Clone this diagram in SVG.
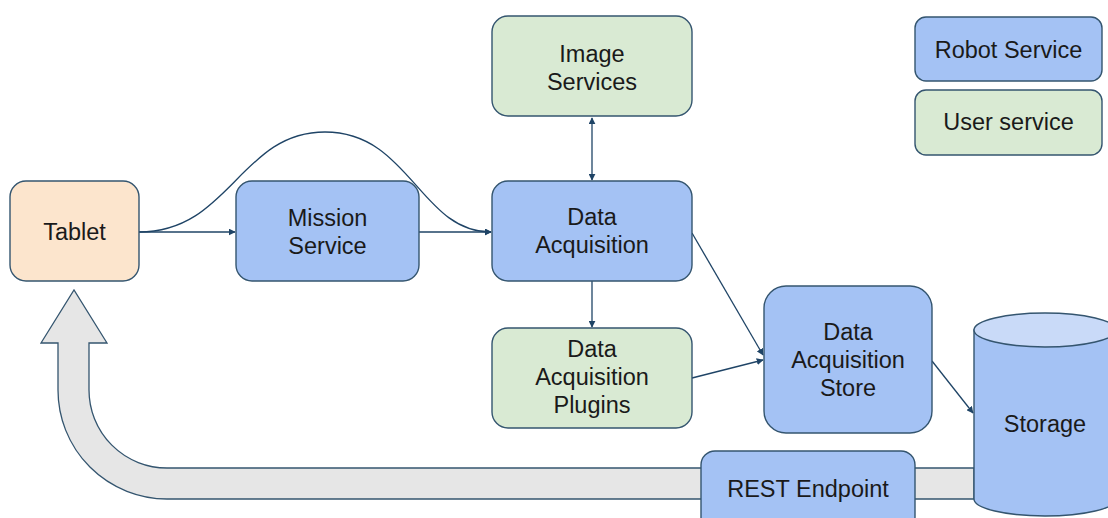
<svg xmlns="http://www.w3.org/2000/svg" width="1108" height="518" viewBox="0 0 1108 518">
<defs>
<style>
.box{stroke:#34556f;stroke-width:1.4}
.robot{fill:#a4c2f4}
.user{fill:#d9ead3}
.tab{fill:#fce5cd}
text{font-family:"Liberation Sans",Arial,sans-serif;font-size:23.5px;fill:#1a1a1a;text-anchor:middle}
.con{fill:none;stroke:#1f4466;stroke-width:1.3}
</style>
<marker id="ah" viewBox="0 0 10 10" refX="9" refY="5" markerWidth="7" markerHeight="7" markerUnits="userSpaceOnUse" orient="auto-start-reverse">
<path d="M0,0 L10,5 L0,10 z" fill="#1f4466"/>
</marker>
</defs>
<rect width="1108" height="518" fill="#ffffff"/>

<g id="feedback-arrow">
<path d="M974,468 L167,468 A78,78 0 0 1 89,390 L89,343 L107,343 L74,290 L41,343 L58,343 L58,390 A109,109 0 0 0 167,499 L974,499 Z" fill="#e6e6e6" stroke="#34556f" stroke-width="1.3"/>
</g>

<g id="connectors">
<line class="con" x1="139" y1="232" x2="235" y2="232" marker-end="url(#ah)"/>
<line class="con" x1="419" y1="232" x2="491" y2="232" marker-end="url(#ah)"/>
<path class="con" d="M139,232 C230,232 240,132 325,132 C410,132 420,232 491,232" marker-end="url(#ah)"/>
<line class="con" x1="592" y1="118" x2="592" y2="180" marker-start="url(#ah)" marker-end="url(#ah)"/>
<line class="con" x1="592" y1="281" x2="592" y2="327" marker-end="url(#ah)"/>
<line class="con" x1="692" y1="233" x2="763" y2="355" marker-end="url(#ah)"/>
<line class="con" x1="692" y1="378" x2="763" y2="360" marker-end="url(#ah)"/>
<line class="con" x1="932" y1="361" x2="973" y2="413" marker-end="url(#ah)"/>
</g>

<g id="tablet">
<rect class="box tab" x="10" y="181" width="129" height="100" rx="16"/>
<text x="74.5" y="240">Tablet</text>
</g>

<g id="mission-service">
<rect class="box robot" x="236" y="181" width="183" height="100" rx="16"/>
<text x="327.5" y="226">Mission</text>
<text x="327.5" y="254">Service</text>
</g>

<g id="image-services">
<rect class="box user" x="492" y="16" width="200" height="100" rx="16"/>
<text x="592" y="62">Image</text>
<text x="592" y="90">Services</text>
</g>

<g id="data-acquisition">
<rect class="box robot" x="492" y="181" width="200" height="100" rx="16"/>
<text x="592" y="225">Data</text>
<text x="592" y="253">Acquisition</text>
</g>

<g id="data-acquisition-plugins">
<rect class="box user" x="492" y="328" width="200" height="100" rx="16"/>
<text x="592" y="357">Data</text>
<text x="592" y="385">Acquisition</text>
<text x="592" y="413">Plugins</text>
</g>

<g id="data-acquisition-store">
<rect class="box robot" x="764" y="286" width="168" height="147" rx="22"/>
<text x="848" y="340">Data</text>
<text x="848" y="368">Acquisition</text>
<text x="848" y="396">Store</text>
</g>

<g id="rest-endpoint">
<rect class="box robot" x="701" y="451" width="214" height="80" rx="14"/>
<text x="808" y="497">REST Endpoint</text>
</g>

<g id="storage">
<path class="box" d="M974,330 L974,499 A71,17 0 0 0 1116,499 L1116,330 Z" fill="#a4c2f4"/>
<ellipse class="box" cx="1045" cy="330" rx="71" ry="17" fill="#c9daf8"/>
<text x="1045" y="432">Storage</text>
</g>

<g id="legend-robot-service">
<rect class="box robot" x="915" y="17" width="187" height="64" rx="11"/>
<text x="1008.5" y="58">Robot Service</text>
</g>

<g id="legend-user-service">
<rect class="box user" x="915" y="90" width="187" height="65" rx="11"/>
<text x="1008.5" y="130">User service</text>
</g>
</svg>
